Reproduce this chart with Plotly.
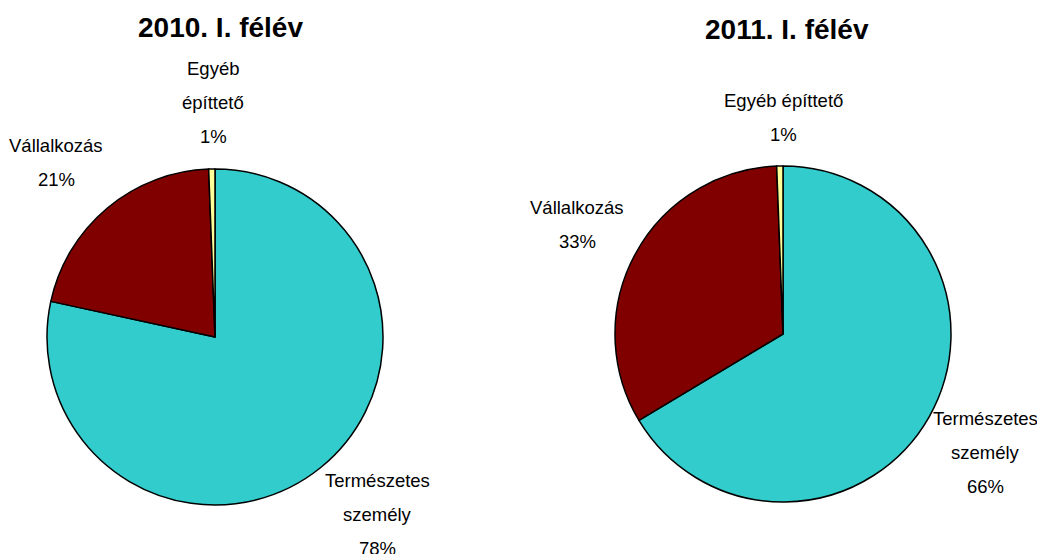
import plotly.graph_objects as go

categories = ["Természetes személy", "Vállalkozás", "Egyéb építtető"]
values_2010 = [78.4, 21.0, 0.6]
values_2011 = [66.4, 33.0, 0.6]
titles = ["2010. I. félév", "2011. I. félév"]
colors = ["#33CCCC", "#800000", "#FFFF99"]

# label line breaks per chart (how the category names wrap)
label_lines_2010 = [["Természetes", "személy"], ["Vállalkozás"], ["Egyéb", "építtető"]]
label_lines_2011 = [["Természetes", "személy"], ["Vállalkozás"], ["Egyéb építtető"]]

OFF = 8  # page body margin
W, H = 1045 - OFF, 554 - OFF
R = 168
centers = [(215, 337), (783, 334)]
# label anchor (centre x, first line y) in pixels, per chart per category
label_pos = [
    [(377, 480), (56, 145), (213, 68)],
    [(985, 418), (577, 207), (783, 100)],
]
line_gap = 34
title_pos = [(220, 28), (787, 30)]


def px(x, y):
    return (x - OFF) / W, 1 - (y - OFF) / H


fig = go.Figure()
font_family = "Liberation Sans, Arial, sans-serif"

for i, vals in enumerate([values_2010, values_2011]):
    cx, cy = centers[i]
    fig.add_trace(go.Pie(
        labels=categories,
        values=vals,
        sort=False,
        direction="clockwise",
        rotation=0,
        marker=dict(colors=colors, line=dict(color="black", width=1.5)),
        textinfo="none",
        hoverinfo="label+percent",
        showlegend=False,
        domain=dict(x=[(cx - OFF - R) / W, (cx - OFF + R) / W],
                    y=[(H - (cy - OFF) - R) / H, (H - (cy - OFF) + R) / H]),
    ))
    total = sum(vals)
    lines_set = [label_lines_2010, label_lines_2011][i]
    for j, cat in enumerate(categories):
        lines = lines_set[j] + [f"{round(vals[j] / total * 100):.0f}%"]
        lx, ly = label_pos[i][j]
        for k, t in enumerate(lines):
            ax, ay = px(lx, ly + k * line_gap)
            fig.add_annotation(
                x=ax, y=ay, xref="paper", yref="paper", text=t, showarrow=False,
                xanchor="center", yanchor="middle",
                font=dict(family=font_family, size=18.5, color="black"),
            )

for i, t in enumerate(titles):
    ax, ay = px(*title_pos[i])
    fig.add_annotation(
        x=ax, y=ay, xref="paper", yref="paper", text=f"<b>{t}</b>",
        showarrow=False, xanchor="center", yanchor="middle",
        font=dict(family=font_family, size=28, color="black"),
    )

fig.update_layout(
    width=W, height=H,
    margin=dict(l=0, r=0, t=0, b=0),
    paper_bgcolor="white", plot_bgcolor="white",
)

fig.write_html("out.html")
